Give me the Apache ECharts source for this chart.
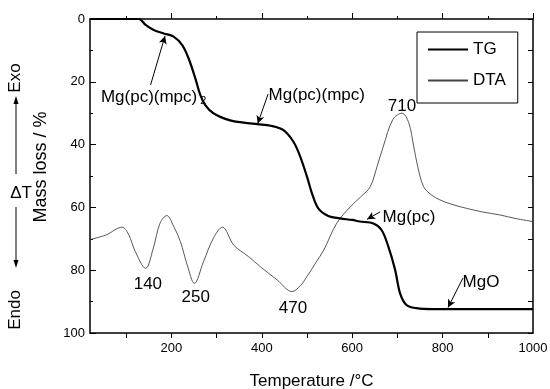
<!DOCTYPE html>
<html>
<head>
<meta charset="utf-8">
<script src="https://cdn.jsdelivr.net/npm/echarts@6/dist/echarts.min.js"></script>
<style>
html, body { margin: 0; padding: 0; background: #fff; }
#chart { width: 550px; height: 389px; }
</style>
</head>
<body>
<div id="chart"></div>
<script>
// TG curve: temperature (°C) / mass loss (%)
var tgTemp = [21, 128, 143, 161, 183, 205, 224, 238, 253, 264, 275, 293, 330, 360, 390, 420, 448, 470, 485, 500, 511, 525, 547, 573, 600, 617, 647, 665, 680, 695, 706, 720, 742, 779, 1000];
var tgMass = [0, 0, 1.9, 3.5, 4.6, 5.6, 8.3, 12.5, 18.9, 24.2, 27.4, 30, 32.3, 33, 33.5, 34, 35.4, 39.1, 43.8, 50.2, 55.5, 60.3, 62.7, 63.5, 64, 64.5, 65.1, 67.2, 72.5, 79.9, 87.4, 91.1, 92.1, 92.4, 92.4];

// DTA curve: temperature (°C) / signal (arbitrary, exo up)
var dtaTemp = [21, 55, 91, 105, 120, 143, 160, 175, 190, 205, 220, 235, 251, 271, 293, 313, 338, 371, 397, 434, 467, 485, 500, 520, 537, 566, 596, 620, 640, 655, 669, 690, 710, 725, 736, 745, 758, 775, 794, 820, 853, 890, 927, 960, 1000];
var dtaSignal = [29.8, 31.2, 33.7, 31.5, 26, 20.6, 27, 35, 37.4, 34, 29.1, 21.7, 15.8, 22.7, 30.2, 33.7, 28, 24.3, 21.1, 16.9, 13.2, 15, 18, 22.5, 26.4, 35, 40.2, 43.5, 46.6, 53, 59.5, 68, 70, 67, 59.5, 53, 46.6, 44, 42.4, 41, 39.7, 38.5, 37.6, 36.5, 35.5];

var xMajorTicks = [200, 400, 600, 800, 1000];
var xMinorTicks = [100, 300, 500, 700, 900];
var xTopTicks = [100, 200, 300, 400, 500, 600, 700, 800, 900];

var font = 'Liberation Sans, Arial, Helvetica, sans-serif';

function pairs(xs, ys) {
    return xs.map(function(x, i) { return [x, ys[i]]; });
}

// text annotations, in data coordinates of the TG axis
function note(text, coord, pos) {
    return {
        coord: coord,
        label: { show: true, position: pos, distance: 0, formatter: text }
    };
}
function arrow(from, to) {
    return [{ coord: from }, { coord: to }];
}

var chart = echarts.init(document.getElementById('chart'));
var option = {
    animation: false,
    textStyle: { fontFamily: font },
    grid: { left: 90, right: 17, top: 19, bottom: 56, outerBoundsMode: 'none', containLabel: false },
    legend: {
        orient: 'vertical',
        left: 417,
        top: 32,
        padding: [9, 12, 14, 10],
        itemGap: 14,
        itemWidth: 40,
        itemHeight: 14,
        borderColor: '#000',
        borderWidth: 1,
        itemStyle: { opacity: 0 },
        textStyle: { fontSize: 17, color: '#000', fontFamily: font },
        data: ['TG', 'DTA']
    },
    xAxis: [{
        type: 'value',
        min: 20,
        max: 1000,
        position: 'bottom',
        name: 'Temperature /°C',
        nameLocation: 'middle',
        nameGap: 40,
        nameTextStyle: { fontSize: 17, color: '#000', fontFamily: font },
        axisLine: { lineStyle: { color: '#000', width: 1.5 } },
        axisTick: { inside: true, length: 6, customValues: xMajorTicks, lineStyle: { color: '#000' } },
        axisLabel: {
            customValues: xMajorTicks, fontSize: 13, color: '#000', margin: 9,
            formatter: function(v) { return String(v); }
        },
        splitLine: { show: false }
    }, {
        type: 'value',
        min: 20,
        max: 1000,
        position: 'bottom',
        axisLine: { show: false },
        axisTick: { inside: true, length: 3, customValues: xMinorTicks, lineStyle: { color: '#000' } },
        axisLabel: { show: false },
        splitLine: { show: false }
    }, {
        type: 'value',
        min: 20,
        max: 1000,
        position: 'top',
        axisLine: { lineStyle: { color: '#000', width: 1.5 } },
        axisTick: { inside: true, length: 5, customValues: xTopTicks, lineStyle: { color: '#000' } },
        axisLabel: { show: false },
        splitLine: { show: false }
    }],
    yAxis: [{
        type: 'value',
        min: 0,
        max: 100,
        interval: 20,
        inverse: true,
        position: 'left',
        axisLine: { show: true, lineStyle: { color: '#000', width: 1.5 } },
        axisTick: { show: true, inside: true, length: 6, lineStyle: { color: '#000' } },
        minorTick: { show: true, splitNumber: 2, length: 3, lineStyle: { color: '#000' } },
        axisLabel: { fontSize: 13, color: '#000', margin: 5 },
        splitLine: { show: false }
    }, {
        type: 'value',
        min: 0,
        max: 100,
        interval: 10,
        inverse: true,
        position: 'right',
        axisLine: { show: true, lineStyle: { color: '#000', width: 1.5 } },
        axisTick: { show: true, inside: true, length: 5, lineStyle: { color: '#000' } },
        axisLabel: { show: false },
        splitLine: { show: false }
    }, {
        type: 'value',
        min: 0,
        max: 100,
        show: false
    }],
    graphic: [
        { type: 'text', x: 15, y: 78, rotation: Math.PI / 2,
          style: { text: 'Exo', font: '17px ' + font, fill: '#000', align: 'center', verticalAlign: 'middle' } },
        { type: 'text', x: 21, y: 193,
          style: { text: 'ΔT', font: '17px ' + font, fill: '#000', align: 'center', verticalAlign: 'middle' } },
        { type: 'text', x: 15, y: 310, rotation: Math.PI / 2,
          style: { text: 'Endo', font: '17px ' + font, fill: '#000', align: 'center', verticalAlign: 'middle' } },
        { type: 'text', x: 41, y: 167, rotation: Math.PI / 2,
          style: { text: 'Mass loss / %', font: '18px ' + font, fill: '#000', align: 'center', verticalAlign: 'middle' } },
        { type: 'line', shape: { x1: 16, y1: 174, x2: 16, y2: 100 }, style: { stroke: '#000', lineWidth: 1 } },
        { type: 'polygon', shape: { points: [[16, 96], [13.5, 104], [18.5, 104]] }, style: { fill: '#000' } },
        { type: 'line', shape: { x1: 16, y1: 207, x2: 16, y2: 263 }, style: { stroke: '#000', lineWidth: 1 } },
        { type: 'polygon', shape: { points: [[16, 268], [13.5, 260], [18.5, 260]] }, style: { fill: '#000' } }
    ],
    series: [{
        name: 'TG',
        type: 'line',
        xAxisIndex: 0,
        yAxisIndex: 0,
        data: pairs(tgTemp, tgMass),
        symbol: 'none',
        smooth: 0.35,
        lineStyle: { color: '#000', width: 2.2 },
        itemStyle: { color: '#000' },
        z: 3,
        markPoint: {
            symbol: 'rect',
            symbolSize: 1,
            itemStyle: { color: 'rgba(0,0,0,0)' },
            label: {
                fontSize: 17,
                color: '#000',
                fontFamily: font,
                rich: {
                    a: { fontSize: 17, color: '#000', fontFamily: font },
                    s: { fontSize: 11, color: '#000', fontFamily: font, padding: [9, 0, 0, 3] }
                }
            },
            data: [
                note('{a|Mg(pc)(mpc)}{s|2}', [43, 24.8], 'right'),
                note('Mg(pc)(mpc)', [414, 24.3], 'right'),
                note('Mg(pc)', [666, 63], 'right'),
                note('MgO', [843, 84], 'right')
            ]
        },
        markLine: {
            silent: true,
            symbol: ['none', 'arrow'],
            symbolSize: [6, 8],
            label: { show: false },
            lineStyle: { color: '#000', width: 1, type: 'solid' },
            data: [
                arrow([154, 21], [186, 5.4]),
                arrow([414, 23.9], [391, 33.3]),
                arrow([662, 61.4], [633, 63.8]),
                arrow([845, 82.5], [812, 91.9])
            ]
        }
    }, {
        name: 'DTA',
        type: 'line',
        xAxisIndex: 0,
        yAxisIndex: 2,
        data: pairs(dtaTemp, dtaSignal),
        symbol: 'none',
        smooth: 0.35,
        lineStyle: { color: '#444', width: 0.9 },
        itemStyle: { color: '#444' },
        z: 2,
        markPoint: {
            symbol: 'rect',
            symbolSize: 1,
            itemStyle: { color: 'rgba(0,0,0,0)' },
            label: { fontSize: 17, color: '#000', fontFamily: font, position: 'inside' },
            data: [
                note('710', [710, 72.3], 'inside'),
                note('140', [148, 15.6], 'inside'),
                note('250', [254, 11.5], 'inside'),
                note('470', [469, 8], 'inside')
            ]
        }
    }]
};
chart.setOption(option);
</script>
</body>
</html>
